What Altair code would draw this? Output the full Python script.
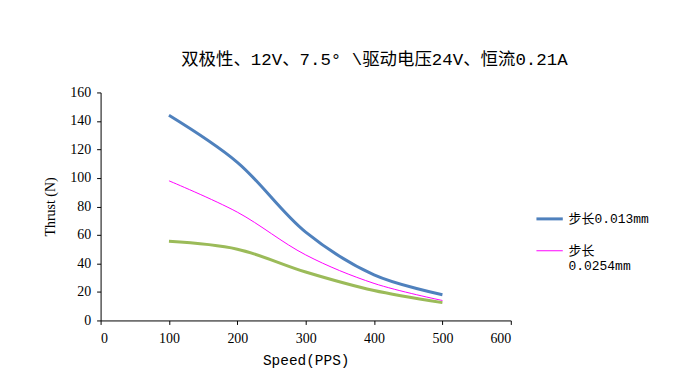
import altair as alt
import pandas as pd

speed = [100, 200, 300, 400, 500]
thrust_013 = [144, 111, 62, 32, 18]
thrust_0254 = [98, 76, 46, 26, 14]
thrust_other = [55.5, 50, 34, 21, 12.5]
series_names = ["步长0.013mm", "步长0.0254mm"]
x_ticks = [0, 100, 200, 300, 400, 500, 600]
y_ticks = [0, 20, 40, 60, 80, 100, 120, 140, 160]
title_text = "双极性、12V、7.5° \\驱动电压24V、恒流0.21A"

rows = []
for name, vals in zip(series_names, [thrust_013, thrust_0254]):
    for s, v in zip(speed, vals):
        rows.append({"speed": s, "thrust": v, "series": name})
df = pd.DataFrame(rows)
df_other = pd.DataFrame({"speed": speed, "thrust": thrust_other})

FONT = "Liberation Serif, Noto Sans CJK SC"
MFONT = "Liberation Mono, Noto Sans CJK SC"

x = alt.X("speed:Q", scale=alt.Scale(domain=[0, 600], nice=False),
          axis=alt.Axis(values=x_ticks, title="Speed(PPS)", format="d", titleFont=MFONT,
                        titleFontSize=14.5, labelPadding=7, titlePadding=8))
y = alt.Y("thrust:Q", scale=alt.Scale(domain=[0, 160], nice=False),
          axis=alt.Axis(values=y_ticks, title="Thrust (N)", format="d", titleFont=FONT,
                        titleFontSize=14, labelPadding=6, titlePadding=12))

main = alt.Chart(df).mark_line(interpolate="catmull-rom").encode(
    x=x, y=y,
    color=alt.Color("series:N", scale=alt.Scale(domain=series_names, range=["#4F81BD", "#FF00FF"]),
                    title=None,
                    legend=alt.Legend(orient="none", legendX=436, legendY=112, symbolType="stroke",
                                      symbolSize=700, labelFont=MFONT, labelFontSize=13,
                                      labelColor="black", rowPadding=11, labelOffset=4,
                                      labelExpr="datum.label == '步长0.0254mm' ? ['步长', '0.0254mm'] : datum.label")),
    strokeWidth=alt.StrokeWidth("series:N", scale=alt.Scale(domain=series_names, range=[3, 1]), legend=None),
)

other = alt.Chart(df_other).mark_line(interpolate="catmull-rom", color="#9BBB59", strokeWidth=3).encode(
    x=x, y=y)

chart = alt.layer(main, other).properties(
    width=412, height=229,
    title=alt.TitleParams(title_text, font=MFONT, fontSize=17.5, fontWeight="normal", color="black",
                          anchor="middle", dx=69, offset=17),
    autosize=alt.AutoSizeParams(type="none"),
    padding={"left": 93, "top": 84, "right": 180, "bottom": 60},
).configure_view(stroke=None).configure_axis(
    grid=False, domainColor="black", tickColor="black", labelColor="black", titleColor="black",
    labelFont=FONT, labelFontSize=14, titleFontWeight="normal",
    tickSize=4,
).configure_legend(strokeColor=None)

chart.save("out.html", embed_options={"renderer": "svg", "actions": False})
